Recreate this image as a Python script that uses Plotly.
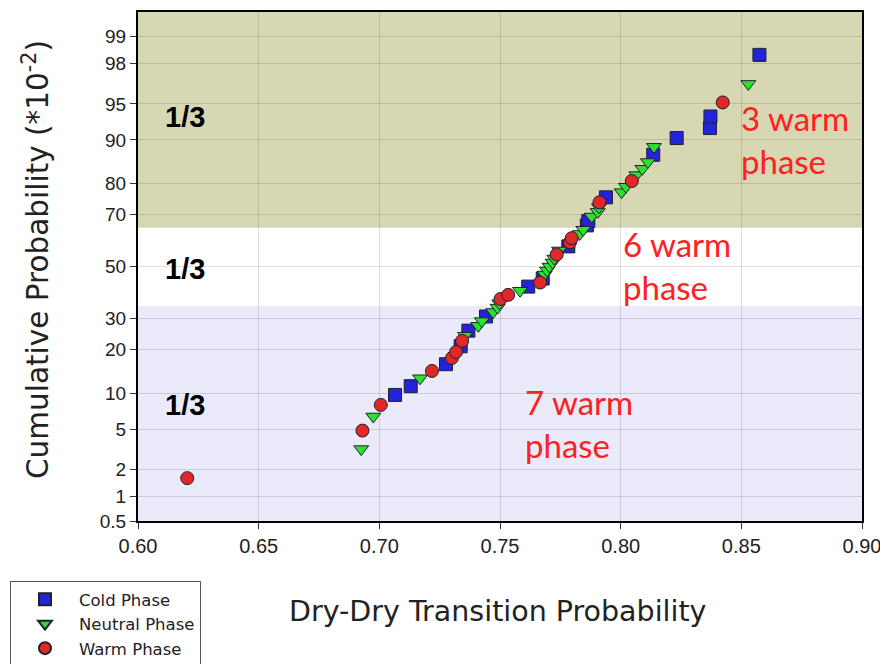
import plotly.graph_objects as go
from statistics import NormalDist

# ---------------- data ----------------
cold_x = [0.7065, 0.7130, 0.7276, 0.7337, 0.7369, 0.7442, 0.7617, 0.7677, 0.7783,
          0.7860, 0.7866, 0.7939, 0.8135, 0.8232, 0.8370, 0.8372, 0.8575]
cold_p = [9.68, 11.29, 16.13, 20.97, 25.81, 30.65, 41.94, 45.16, 58.06,
          66.13, 67.74, 75.81, 87.10, 90.32, 91.94, 93.55, 98.39]

neutral_x = [0.6925, 0.6975, 0.7169, 0.7355, 0.7410, 0.7425, 0.7472, 0.7490, 0.7497,
             0.7583, 0.7685, 0.7695, 0.7705, 0.7718, 0.7725, 0.7745, 0.7830, 0.7845,
             0.7880, 0.7905, 0.7910, 0.8004, 0.8022, 0.8065, 0.8090, 0.8113, 0.8138,
             0.8529]
neutral_p = [3.23, 6.45, 12.90, 24.19, 27.42, 29.03, 32.26, 33.87, 35.48,
             40.32, 46.77, 48.39, 50.00, 51.61, 53.23, 56.45, 62.90, 64.52,
             69.35, 70.97, 72.58, 77.42, 79.03, 82.26, 83.87, 85.48, 88.71,
             96.77]

warm_x = [0.6204, 0.6930, 0.7006, 0.7218, 0.7301, 0.7318, 0.7343, 0.7502, 0.7534,
          0.7666, 0.7735, 0.7790, 0.7797, 0.7912, 0.8046, 0.8423]
warm_p = [1.61, 4.84, 8.06, 14.52, 17.74, 19.35, 22.58, 37.10, 38.71,
          43.55, 54.84, 59.68, 61.29, 74.19, 80.65, 95.16]

x_ticks = [0.60, 0.65, 0.70, 0.75, 0.80, 0.85, 0.90]
x_ticklabels = ["0.60", "0.65", "0.70", "0.75", "0.80", "0.85", "0.90"]
y_ticks = [0.5, 1, 2, 5, 10, 20, 30, 50, 70, 80, 90, 95, 98, 99]
y_ticklabels = ["0.5", "1", "2", "5", "10", "20", "30", "50", "70", "80", "90", "95", "98", "99"]

band_edges = [0.5, 34.6, 65.3, 99.5]          # tercile bands (percent)
band_labels = ["1/3", "1/3", "1/3"]
phase_notes = ["7 warm<br>phase", "6 warm<br>phase", "3 warm<br>phase"]

# ---------------- probability-scale transform ----------------
nd = NormalDist()


def z(p):
    return nd.inv_cdf(p / 100.0)


FONT = "Liberation Sans, Arial, sans-serif"
WIDE = "DejaVu Sans, Verdana, sans-serif"

# figure sits inside the page body (8 px margin), so size it to fill 888x672
W, H = 872, 656
L, T, PW, PH = 130, 4, 724, 509
R, B = W - L - PW, H - T - PH
BOT = T + PH


def px(xp):
    return (xp - L) / PW


def py(yp):
    return (BOT - yp) / PH


fig = go.Figure()

marker_line = dict(color="#202030", width=1)
fig.add_trace(go.Scatter(x=cold_x, y=[z(p) for p in cold_p], mode="markers",
                         name="Cold Phase",
                         marker=dict(symbol="square", size=13, color="#2323dc",
                                     line=marker_line)))
fig.add_trace(go.Scatter(x=neutral_x, y=[z(p) for p in neutral_p], mode="markers",
                         name="Neutral Phase",
                         marker=dict(symbol="triangle-down", size=13, color="#2ee02e",
                                     line=marker_line)))
fig.add_trace(go.Scatter(x=warm_x, y=[z(p) for p in warm_p], mode="markers",
                         name="Warm Phase",
                         marker=dict(symbol="circle", size=13, color="#e02828",
                                     line=marker_line)))

# background tercile bands
band_colors = ["#eaeafa", "#ffffff", "#d8d7b3"]
for i, col in enumerate(band_colors):
    fig.add_shape(type="rect", xref="x domain", yref="y",
                  x0=0, x1=1, y0=z(band_edges[i]), y1=z(band_edges[i + 1]),
                  fillcolor=col, line=dict(width=0), layer="below")

# "1/3" labels
for yv, lab in zip([8.0, 49.0, 93.5], band_labels):
    fig.add_annotation(x=0.6195, y=z(yv), text=f"<b>{lab}</b>", showarrow=False,
                       xanchor="center", yanchor="middle",
                       font=dict(family=FONT, size=29, color="black"))

# red notes
for (xv, yv), note in zip([(0.7595, 5.6), (0.8003, 50.5), (0.8492, 90.0)], phase_notes):
    fig.add_annotation(x=xv, y=z(yv), text=note, showarrow=False,
                       xanchor="left", yanchor="middle", align="left",
                       font=dict(family="Lato, Carlito, sans-serif", size=33,
                                 color="#ff2020"))

# axis titles (positions given in page pixels, minus the 8 px body offset)
fig.add_annotation(xref="paper", yref="paper", x=px(36 - 8), y=py(260 - 8),
                   text="Cumulative Probability (*10<sup>-2</sup>)", textangle=-90,
                   showarrow=False, xanchor="center", yanchor="middle",
                   font=dict(family=WIDE, size=29.5, color="#222"))
fig.add_annotation(xref="paper", yref="paper", x=px(498 - 8), y=py(611 - 8),
                   text="Dry-Dry Transition Probability",
                   showarrow=False, xanchor="center", yanchor="middle",
                   font=dict(family=WIDE, size=28.5, color="#222"))

grid = "rgba(0,0,0,0.13)"
fig.update_layout(
    width=W, height=H,
    margin=dict(l=L, r=R, t=T, b=B, autoexpand=False),
    paper_bgcolor="white", plot_bgcolor="rgba(0,0,0,0)",
    showlegend=True,
    legend=dict(x=px(10 - 8), y=py(581 - 8), xanchor="left", yanchor="top",
                bordercolor="#555", borderwidth=1, bgcolor="white",
                font=dict(family=WIDE, size=16.5, color="#222"),
                itemsizing="constant", itemwidth=58),
    xaxis=dict(range=[0.6, 0.9], tickvals=x_ticks, ticktext=x_ticklabels,
               showgrid=True, gridcolor=grid, gridwidth=1, zeroline=False,
               ticks="outside", ticklen=6, tickcolor="#333",
               ticklabeloverflow="allow",
               showline=True, linecolor="black", linewidth=2, mirror=True,
               tickfont=dict(family=FONT, size=20, color="#222")),
    yaxis=dict(range=[z(0.5), z(99.5)], tickvals=[z(v) for v in y_ticks],
               ticktext=y_ticklabels,
               showgrid=True, gridcolor=grid, gridwidth=1, zeroline=False,
               ticks="outside", ticklen=6, tickcolor="#333",
               ticklabeloverflow="allow",
               showline=True, linecolor="black", linewidth=2, mirror=True,
               tickfont=dict(family=FONT, size=19, color="#222")),
)

fig.write_html("out.html")
